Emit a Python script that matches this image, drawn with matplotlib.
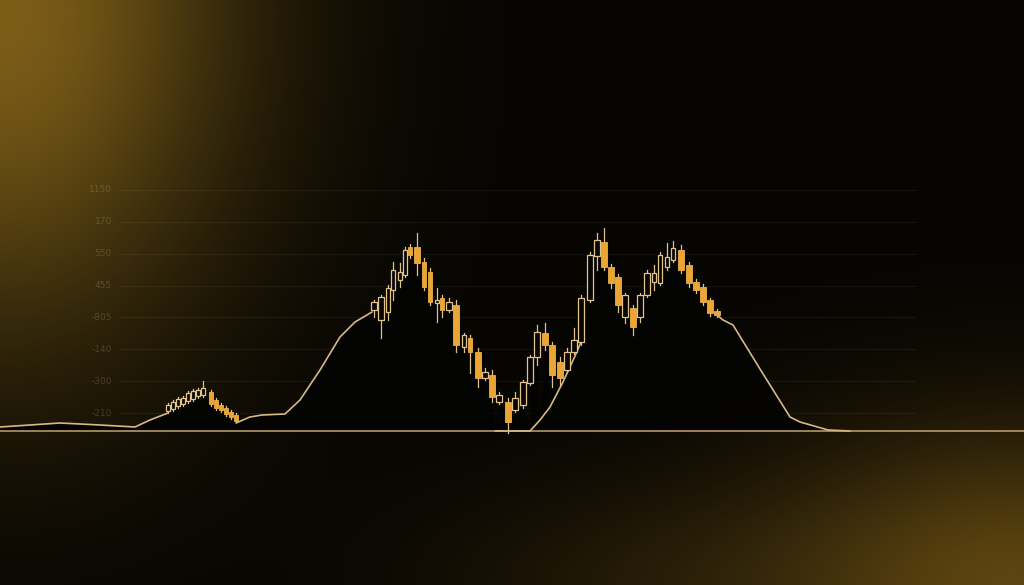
import numpy as np
import matplotlib
matplotlib.use("Agg")
import matplotlib.pyplot as plt
from matplotlib.patches import Rectangle

# ---- data (values measured above the baseline) ----
# candles: time, open, high, low, close
cdl_t = [168, 173, 178, 183, 188, 193, 198, 203, 211, 216, 221, 226, 231, 236,
         374, 381, 388, 393, 400, 405, 410, 417, 424, 430, 437, 442, 449, 456,
         464, 470, 478, 485, 492, 499, 508, 515, 523, 530, 537, 545, 552, 560,
         567, 574, 581, 590, 597, 604, 611, 618, 625, 633, 640, 647, 654, 660,
         667, 673, 681, 689, 696, 703, 710, 717]
cdl_o = [20, 22, 25, 27, 30, 32, 35, 36, 39, 31, 26, 23, 19, 16,
         121, 111, 119, 141, 151, 156, 184, 184, 169, 159, 128, 133, 121, 126,
         84, 93, 79, 53, 56, 29, 29, 21, 26, 48, 74, 98, 86, 69,
         61, 79, 89, 131, 175, 189, 164, 154, 114, 123, 114, 136, 149, 148,
         164, 171, 181, 166, 149, 144, 131, 120]
cdl_h = [28, 31, 34, 35, 40, 42, 43, 50, 41, 33, 28, 25, 21, 18,
         131, 136, 146, 169, 168, 184, 187, 198, 173, 163, 143, 136, 133, 131,
         98, 96, 83, 63, 61, 39, 33, 39, 51, 76, 106, 108, 89, 74,
         83, 103, 136, 179, 198, 203, 167, 157, 138, 126, 138, 161, 166, 179,
         188, 190, 186, 169, 152, 147, 133, 122]
cdl_l = [18, 20, 23, 25, 28, 30, 33, 34, 25, 21, 19, 15, 12, 9,
         114, 93, 111, 131, 144, 154, 173, 156, 141, 126, 109, 114, 119, 79,
         79, 58, 44, 51, 29, 27, -2, 19, 23, 46, 66, 81, 44, 46,
         59, 77, 86, 129, 161, 161, 143, 119, 108, 96, 109, 134, 141, 146,
         161, 169, 158, 144, 138, 126, 115, 114]
cdl_c = [26, 29, 32, 33, 38, 40, 41, 43, 27, 23, 21, 17, 14, 10,
         129, 134, 143, 161, 159, 181, 176, 168, 144, 129, 131, 121, 129, 86,
         96, 79, 53, 59, 34, 36, 9, 33, 49, 74, 99, 86, 56, 53,
         79, 91, 133, 176, 191, 164, 148, 126, 136, 104, 136, 158, 158, 176,
         174, 183, 161, 148, 141, 129, 118, 116]

# smooth trend line (pieces between candle clusters)
line1_t = [0, 30, 60, 100, 135, 150, 168]
line1_v = [4, 6, 8, 6, 4, 11, 18]
line2_t = [236, 250, 262, 285, 300, 320, 340, 355, 372]
line2_v = [8, 14, 16, 17, 31, 61, 94, 109, 119]
line3_t = [495, 530, 540, 550, 563, 575, 581]
line3_v = [0, 0, 11, 24, 49, 75, 89]
line4_t = [717, 723, 733, 760, 790, 800, 828, 850]
line4_v = [116, 111, 106, 62, 14, 9, 1, 0]

tick_vals = [241, 209, 177, 145, 114, 82, 50, 18]
tick_labels = ["1150", "170", "550", "455", "-805", "-140", "-300", "-210"]

W, H = 1024, 585
fig = plt.figure(figsize=(W / 100, H / 100), dpi=100)

# background glow
bg = fig.add_axes([0, 0, 1, 1])
yy, xx = np.mgrid[0:H, 0:W]
img = np.zeros((H, W, 3))
img[:] = np.array([6, 5, 2]) / 255
g1 = np.exp(-((xx / 240.0) ** 2 + ((yy - 10) / 330.0) ** 2))
g2 = np.exp(-(((xx - W) / 260.0) ** 2 + ((yy - H) / 160.0) ** 2))
g3 = np.exp(-(((xx - 640) / 240.0) ** 2 + ((yy - H) / 110.0) ** 2))
img += g1[..., None] * np.array([118, 88, 22]) / 255
img += g2[..., None] * np.array([85, 62, 14]) / 255
img += g3[..., None] * np.array([22, 16, 4]) / 255
img = np.clip(img, 0, 1)
bg.imshow(img, extent=[0, W, H, 0], aspect="auto")
bg.set_axis_off()

ax = fig.add_axes([0, 0, 1, 1])
ax.patch.set_alpha(0)
ax.set_xlim(0, W)
ax.set_ylim(-154, 431)
ax.set_axis_off()

# grid + tick labels
for v, lab in zip(tick_vals, tick_labels):
    ax.plot([120, 915], [v, v], color="#fff0d0", alpha=0.06, lw=0.8, zorder=1)
    ax.text(112, v, lab, color="#d8c8a0", alpha=0.22, fontsize=6.5,
            ha="right", va="center", zorder=1)

# dark "mountain" under the profile
o = np.array(cdl_o); c = np.array(cdl_c)
prof_t = line1_t + cdl_t[:14] + line2_t + cdl_t[14:35] + line3_t + cdl_t[35:] + line4_t
prof_v = line1_v + list(np.minimum(o, c)[:14]) + line2_v + list(np.minimum(o, c)[14:35]) \
    + line3_v + list(np.minimum(o, c)[35:]) + line4_v
order = np.argsort(prof_t, kind="stable")
pt = np.array(prof_t)[order]; pv = np.array(prof_v)[order]
ax.fill_between(pt, 0, pv, color="#030302", alpha=0.9, lw=0, zorder=2)

# baseline
ax.axhline(0, color="#c4a474", lw=1.1, zorder=3)

lc = "#d6b887"
for lt, lv in [(line1_t, line1_v), (line2_t, line2_v), (line3_t, line3_v), (line4_t, line4_v)]:
    ax.plot(lt, lv, color=lc, lw=1.2, zorder=4, solid_capstyle="round")

# candles
tt = np.array(cdl_t)
for i in range(len(cdl_t)):
    gaps = []
    if i > 0:
        gaps.append(tt[i] - tt[i - 1])
    if i < len(tt) - 1:
        gaps.append(tt[i + 1] - tt[i])
    w = min(min(gaps), 8) * 0.75
    ax.plot([tt[i], tt[i]], [cdl_l[i], cdl_h[i]], color="#dcc08e", lw=0.9, zorder=5)
    lo_b, hi_b = min(cdl_o[i], cdl_c[i]), max(cdl_o[i], cdl_c[i])
    if cdl_c[i] >= cdl_o[i]:
        ax.add_patch(Rectangle((tt[i] - w / 2, lo_b), w, max(hi_b - lo_b, 1),
                               facecolor="#080604", edgecolor="#e2c48e", lw=0.9, zorder=6))
    else:
        ax.add_patch(Rectangle((tt[i] - w / 2, lo_b), w, max(hi_b - lo_b, 1),
                               facecolor="#eaa534", edgecolor="#eeb044", lw=0.6, zorder=6))

fig.savefig("out.png", dpi=100)
